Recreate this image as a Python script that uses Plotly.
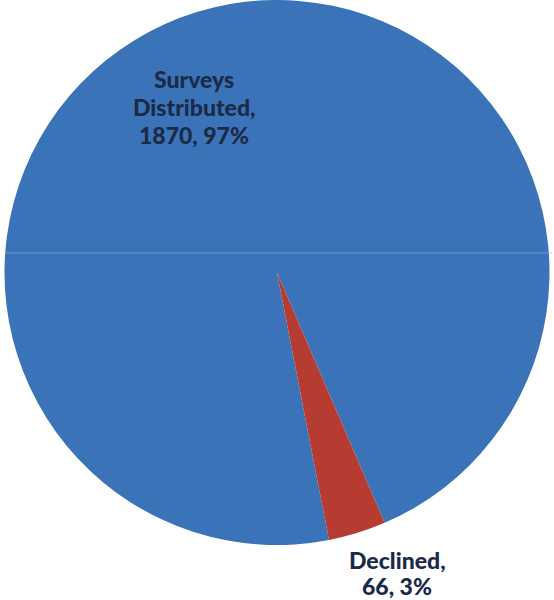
import plotly.graph_objects as go

labels = ["Surveys Distributed", "Declined"]
values = [1870, 66]
colors = ["#3b73b9", "#b63b31"]

total = sum(values)
pcts = [round(100 * v / total) for v in values]

fig = go.Figure()
fig.add_trace(go.Pie(
    labels=labels,
    values=values,
    sort=False,
    direction="clockwise",
    rotation=169,
    marker=dict(colors=colors, line=dict(width=0)),
    textinfo="none",
    hoverinfo="label+value+percent",
    showlegend=False,
    domain=dict(x=[0.0, 1.0], y=[1 - 545 / 600, 1.0]),
))

W, H = 554, 600
font = dict(family="Lato, 'Open Sans', sans-serif", size=23, color="#1b2a46", weight=900)

def add_lines(lines, cx, ys):
    for line, y in zip(lines, ys):
        fig.add_annotation(
            text=line, x=cx / W, y=1 - y / H,
            xref="paper", yref="paper", showarrow=False,
            xanchor="center", yanchor="middle", font=font,
        )

# Label for first slice (inside)
words0 = labels[0].split(" ")
lines0 = [words0[0], " ".join(words0[1:]) + ",", f"{values[0]}, {pcts[0]}%"]
add_lines(lines0, 194, [79, 107, 135])

# Label for second slice (outside, below)
lines1 = [labels[1] + ",", f"{values[1]}, {pcts[1]}%"]
add_lines(lines1, 397, [560, 586])

# faint highlight line across the pie
fig.add_shape(type="line", xref="paper", yref="paper",
              x0=6 / W, x1=552 / W, y0=1 - 253 / H, y1=1 - 253 / H,
              line=dict(color="rgba(140,175,220,0.6)", width=1))

fig.update_layout(
    width=W, height=H,
    margin=dict(l=0, r=0, t=0, b=0),
    paper_bgcolor="white",
    plot_bgcolor="white",
)

fig.write_html(
    "out.html",
    config={"displayModeBar": False},
    post_script="document.body.style.margin='0';document.body.style.overflow='hidden';",
)
